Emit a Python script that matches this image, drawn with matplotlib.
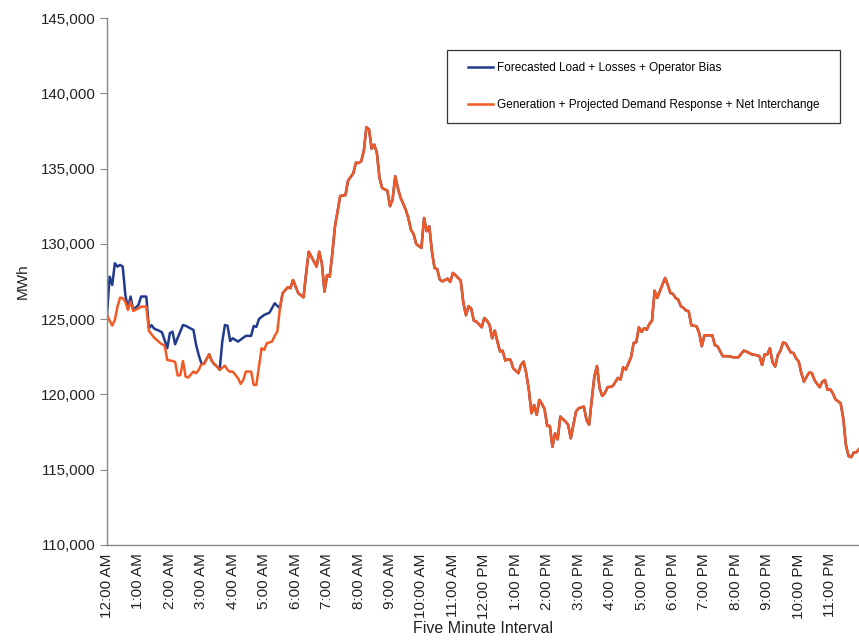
import matplotlib
matplotlib.use("Agg")
import matplotlib.pyplot as plt
from matplotlib.patches import Rectangle
from matplotlib.ticker import FuncFormatter
import numpy as np

plt.rcParams['font.family'] = ['Liberation Sans', 'DejaVu Sans']

# x tick labels (one per hour, 12 five-minute intervals apart)
hour_labels = ["12:00 AM", "1:00 AM", "2:00 AM", "3:00 AM", "4:00 AM", "5:00 AM",
               "6:00 AM", "7:00 AM", "8:00 AM", "9:00 AM", "10:00 AM", "11:00 AM",
               "12:00 PM", "1:00 PM", "2:00 PM", "3:00 PM", "4:00 PM", "5:00 PM",
               "6:00 PM", "7:00 PM", "8:00 PM", "9:00 PM", "10:00 PM", "11:00 PM"]

# Generation + Projected Demand Response + Net Interchange: (five-minute interval index, MWh)
gen_points = [
    (0, 125300), (1, 124900), (2, 124570), (3, 124950), (4, 125830), (5, 126430), (6, 126390),
    (7, 126160), (8, 125610), (9, 126160), (10, 125540), (12, 125720), (13, 125830), (15, 125830),
    (16, 124220), (18, 123770), (20, 123460), (21, 123330), (22, 123240), (23, 122290), (25, 122220),
    (26, 122150), (27, 121250), (28, 121290), (29, 122220), (30, 121180), (31, 121120), (33, 121520),
    (34, 121410), (35, 121630), (36, 122000), (37, 122020), (39, 122670), (40, 122220), (41, 122000),
    (42, 121850), (43, 121630), (45, 121910), (46, 121630), (47, 121500), (48, 121520), (49, 121300),
    (50, 121080), (51, 120700), (52, 120960), (53, 121520), (55, 121520), (56, 120630), (57, 120630),
    (58, 121850), (59, 123070), (60, 122960), (61, 123400), (63, 123510), (64, 123890), (65, 124170),
    (66, 125720), (67, 126720), (69, 127120), (70, 127050), (71, 127600), (73, 126720), (75, 126450),
    (76, 128050), (77, 129480), (78, 129150), (80, 128490), (81, 129480), (82, 128710), (83, 126830),
    (84, 127930), (85, 127820), (86, 129370), (87, 131140), (89, 133180), (91, 133240), (92, 134200),
    (94, 134690), (95, 135390), (96, 135370), (97, 135480), (98, 136150), (99, 137740), (100, 137600),
    (101, 136320), (102, 136590), (103, 136040), (104, 134380), (105, 133710), (107, 133530),
    (108, 132500), (109, 132940), (110, 134490), (111, 133710), (112, 133090), (114, 132270),
    (115, 131720), (116, 130940), (117, 130660), (118, 129990), (120, 129730), (121, 131720),
    (122, 130840), (123, 131170), (124, 129510), (125, 128400), (126, 128330), (127, 127620),
    (128, 127510), (130, 127690), (131, 127470), (132, 128070), (133, 127920), (135, 127560),
    (136, 126080), (137, 125260), (138, 125860), (139, 125700), (140, 124900), (141, 124840),
    (143, 124460), (144, 125080), (145, 124900), (146, 124620), (147, 123730), (148, 124240),
    (149, 123510), (150, 122850), (151, 122900), (152, 122250), (153, 122340), (154, 122300),
    (155, 121740), (157, 121410), (158, 121960), (159, 122180), (160, 121410), (161, 120300),
    (162, 118750), (163, 119300), (164, 118640), (165, 119640), (166, 119370), (167, 119020),
    (168, 117910), (169, 117910), (170, 116530), (171, 117420), (172, 117020), (173, 118530),
    (175, 118200), (176, 117980), (177, 117090), (178, 117980), (179, 118860), (180, 119080),
    (182, 119190), (183, 118310), (184, 117980), (185, 119640), (186, 121180), (187, 121890),
    (188, 120410), (189, 119900), (190, 120080), (191, 120480), (192, 120500), (193, 120550),
    (195, 121100), (196, 120990), (197, 121800), (198, 121650), (200, 122470), (201, 123420),
    (202, 123470), (203, 124460), (204, 124150), (205, 124400), (206, 124300), (207, 124680),
    (208, 124900), (209, 126890), (210, 126410), (212, 127290), (213, 127740), (214, 127290),
    (215, 126740), (216, 126670), (217, 126410), (218, 126300), (219, 125860), (220, 125750),
    (221, 125570), (222, 125530), (223, 124590), (225, 124530), (226, 124080), (227, 123200),
    (228, 123930), (229, 123930), (231, 123930), (232, 123270), (233, 123200), (234, 122870),
    (235, 122540), (237, 122540), (239, 122470), (241, 122470), (243, 122910), (244, 122850),
    (246, 122670), (248, 122600), (249, 122550), (250, 121960), (251, 122670), (252, 122650),
    (253, 123070), (254, 122140), (255, 121850), (256, 122600), (257, 122900), (258, 123440),
    (259, 123400), (261, 122780), (262, 122750), (263, 122400), (264, 122180), (265, 121410),
    (266, 120850), (267, 121180), (268, 121450), (269, 121420), (270, 120960), (271, 120700),
    (272, 120480), (273, 120850), (274, 120960), (275, 120300), (276, 120350), (277, 120080),
    (278, 119680), (280, 119410), (281, 118410), (282, 116640), (283, 115910), (284, 115830),
    (285, 116140), (286, 116160), (287, 116360),
]

# Forecasted Load + Losses + Operator Bias: early-morning part where it differs;
# from interval 66 on it coincides with the generation series
load_points_early = [
    (0, 125300), (1, 127820), (2, 127270), (3, 128710), (4, 128490), (5, 128600), (6, 128490),
    (7, 126610), (8, 125720), (9, 126500), (10, 125610), (12, 125940), (13, 126500), (15, 126500),
    (16, 124400), (17, 124600), (18, 124370), (20, 124220), (21, 124120), (23, 123070), (24, 124070),
    (25, 124170), (26, 123330), (27, 123770), (29, 124610), (30, 124560), (33, 124280), (34, 123290),
    (35, 122620), (36, 122070), (37, 122020), (39, 122670), (40, 122220), (41, 122000), (42, 121850),
    (43, 121630), (44, 123510), (45, 124610), (46, 124560), (47, 123550), (48, 123730), (50, 123510),
    (53, 123890), (55, 123890), (56, 124550), (57, 124480), (58, 125010), (60, 125280), (62, 125430),
    (64, 126050),
]
merge_from = 66

gen_idx = [p[0] for p in gen_points]
gen_val = [p[1] for p in gen_points]
load_idx = [p[0] for p in load_points_early] + [i for i in gen_idx if i >= merge_from]
load_val = [p[1] for p in load_points_early] + [v for i, v in zip(gen_idx, gen_val) if i >= merge_from]

BLUE = "#213a8c"
ORANGE = "#f15a24"

fig = plt.figure(figsize=(8.59, 6.44), dpi=100)
ax = fig.add_axes([107/859, 1 - 545/644, 752/859, 527/644])

ax.plot(load_idx, load_val, color=BLUE, lw=1.8, label="Forecasted Load + Losses + Operator Bias",
        solid_joinstyle='round')
ax.plot(gen_idx, gen_val, color=ORANGE, lw=1.8,
        label="Generation + Projected Demand Response + Net Interchange", solid_joinstyle='round')

ax.set_xlim(0, 287)
ax.set_ylim(110000, 145000)
ax.set_yticks(np.arange(110000, 145001, 5000))
ax.yaxis.set_major_formatter(FuncFormatter(lambda v, p: f"{int(v):,}"))
ax.set_xticks(np.arange(0, 288, 12))
ax.set_xticklabels(hour_labels, rotation=90, fontsize=11, color="#222222")
ax.tick_params(axis='x', length=0, pad=6)
ax.tick_params(axis='y', length=5, width=0.8, color="#888888", labelsize=10.8,
               labelcolor="#222222", pad=3)

for s in ['top', 'right']:
    ax.spines[s].set_visible(False)
for s in ['left', 'bottom']:
    ax.spines[s].set_color("#888888")
    ax.spines[s].set_linewidth(1.0)

ax.set_ylabel("MWh", fontsize=11, color="#222222", labelpad=8)
ax.set_xlabel("Five Minute Interval", fontsize=11.5, color="#222222", labelpad=2)

# legend box (frame drawn separately to match the reference geometry)
x0 = (447 - 107) / 752
y0 = 1 - (123 - 18) / 527
w = (840 - 447) / 752
h = (123 - 50) / 527
frame = Rectangle((x0, y0), w, h, transform=ax.transAxes, facecolor="white",
                  edgecolor="#333333", lw=0.9, zorder=5)
ax.add_patch(frame)
leg = ax.legend(loc='upper left', bbox_to_anchor=((468 - 107) / 752, 1 - (62 - 18) / 527),
                frameon=False, fontsize=8.5, handlelength=2.1, handletextpad=0.35,
                labelspacing=2.15, borderpad=0, borderaxespad=0)
leg.set_zorder(6)

fig.savefig("out.png", dpi=100)
